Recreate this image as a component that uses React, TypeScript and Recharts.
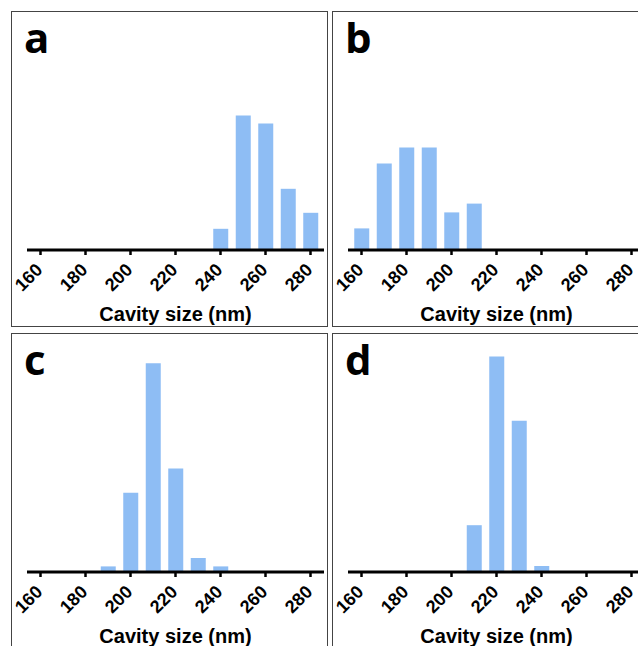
import React from 'react';
import { BarChart, Bar, XAxis, YAxis } from 'recharts';

const sizeTicks = [160, 180, 200, 220, 240, 260, 280];
const axisTitle = 'Cavity size (nm)';

const sizesA = [240, 250, 260, 270, 280];
const countsA = [5.3, 33.6, 31.6, 15.3, 9.3];

const sizesB = [160, 170, 180, 190, 200, 210];
const countsB = [5.4, 21.6, 25.6, 25.6, 9.4, 11.6];

const sizesC = [190, 200, 210, 220, 230, 240];
const countsC = [1.4, 19.8, 52.2, 25.9, 3.5, 1.4];

const sizesD = [210, 220, 230, 240];
const countsD = [11.7, 53.9, 37.8, 1.5];

const BAR_COLOR = '#8ebdf4';
const TICK_FONT = "'Liberation Sans', Arial, sans-serif";

function SizeTick(props: any) {
  const { x, y, payload } = props;
  const px = x + 3;
  const py = y + 16;
  return (
    <text
      x={px}
      y={py}
      transform={`rotate(-45 ${px} ${py})`}
      textAnchor="end"
      fontFamily={TICK_FONT}
      fontWeight={700}
      fontSize={18}
      fill="#000"
    >
      {payload.value}
    </text>
  );
}

function Panel(props: { left: number; top: number; letter: string; sizes: number[]; counts: number[] }) {
  const { left, top, letter, sizes, counts } = props;
  const data = sizes.map((s, i) => ({ size: s, count: counts[i] }));
  return (
    <div
      style={{
        position: 'absolute',
        left,
        top,
        width: 315,
        height: 314,
        border: '1px solid #444',
        background: '#fff',
      }}
    >
      <BarChart
        width={315}
        height={314}
        data={data}
        margin={{ top: 14, right: 3, bottom: 0, left: 15 }}
        style={{ overflow: 'visible' }}
      >
        <XAxis
          dataKey="size"
          type="number"
          domain={[154, 286]}
          ticks={sizeTicks}
          interval={0}
          allowDataOverflow
          axisLine={{ stroke: '#000', strokeWidth: 3 }}
          tickLine={{ stroke: '#000', strokeWidth: 2.5 }}
          tickSize={5}
          tickMargin={0}
          height={76}
          tick={<SizeTick />}
          label={{
            value: axisTitle,
            position: 'insideBottom',
            offset: 5,
            fill: '#000',
            fontSize: 20,
            fontWeight: 700,
            fontFamily: TICK_FONT,
          }}
        />
        <YAxis hide domain={[0, 56]} allowDataOverflow />
        <Bar dataKey="count" fill={BAR_COLOR} barSize={15} isAnimationActive={false} />
      </BarChart>
      <svg style={{ position: 'absolute', left: 0, top: 0, overflow: 'visible' }} width={110} height={90}>
        <text x={12} y={41} fontFamily="'Open Sans', sans-serif" fontWeight={700} fontSize={42} fill="#000">
          {letter}
        </text>
      </svg>
    </div>
  );
}

export default function App() {
  return (
    <div
      style={{
        position: 'absolute',
        left: 0,
        top: 0,
        width: 638,
        height: 646,
        overflow: 'hidden',
        background: '#fff',
      }}
    >
      <Panel left={11} top={11} letter="a" sizes={sizesA} counts={countsA} />
      <Panel left={332} top={11} letter="b" sizes={sizesB} counts={countsB} />
      <Panel left={11} top={333} letter="c" sizes={sizesC} counts={countsC} />
      <Panel left={332} top={333} letter="d" sizes={sizesD} counts={countsD} />
    </div>
  );
}
